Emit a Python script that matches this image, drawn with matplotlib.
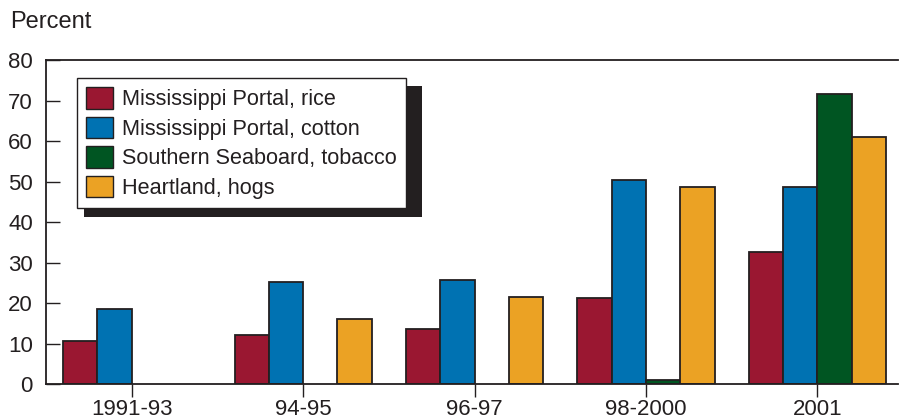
import matplotlib.pyplot as plt
import matplotlib.patches as mpatches
import numpy as np

plt.rcParams['font.family'] = ['Liberation Sans', 'DejaVu Sans']

# share of farms by region/commodity, percent
periods = ['1991-93', '94-95', '96-97', '98-2000', '2001']
rice = [10.6, 12.2, 13.7, 21.3, 32.7]
cotton = [18.5, 25.3, 25.6, 50.4, 48.6]
tobacco = [0.0, 0.0, 0.0, 1.1, 71.6]
hogs = [0.0, 16.0, 21.6, 48.6, 61.1]

series = [
    ('Mississippi Portal, rice', rice, '#9a1731'),
    ('Mississippi Portal, cotton', cotton, '#0072b2'),
    ('Southern Seaboard, tobacco', tobacco, '#005522'),
    ('Heartland, hogs', hogs, '#eba224'),
]

fig = plt.figure(figsize=(9, 4.19), dpi=100)
W, H = 900, 419
ax = fig.add_axes([46 / W, 1 - 384 / H, (898 - 46) / W, (384 - 60) / H])

x = np.arange(len(periods))
width = 0.2
handles = []
for i, (name, vals, color) in enumerate(series):
    offs = (i - 1.5) * width
    v = np.array(vals)
    keep = v > 0
    ax.bar(x[keep] + offs, v[keep], width, color=color, edgecolor='#231f20',
           linewidth=1.3, zorder=3)
    handles.append(mpatches.Patch(facecolor=color, edgecolor='#231f20',
                                  linewidth=1.0, label=name))

ax.set_xlim(-0.5, 4.47)
ax.set_ylim(0, 80)
ax.set_yticks(range(0, 81, 10))
ax.set_xticks(x)
ax.set_xticklabels(periods)

ax.spines['right'].set_visible(False)
for s in ['left', 'top', 'bottom']:
    ax.spines[s].set_color('#231f20')
    ax.spines[s].set_linewidth(1.3)
ax.spines['bottom'].set_zorder(4)

ax.tick_params(axis='y', direction='in', length=10, width=1, colors='#231f20',
               labelsize=16, pad=9.5)
ax.tick_params(axis='x', direction='out', length=9, width=1, colors='#231f20',
               labelsize=16, pad=2)
for lab in ax.get_yticklabels() + ax.get_xticklabels():
    lab.set_color('#231f20')

fig.text(10 / W, 1 - 28 / H, 'Percent', fontsize=17, color='#231f20',
         ha='left', va='baseline')

leg = ax.legend(handles=handles, loc='upper left',
                bbox_to_anchor=(77 / W, 1 - 78 / H),
                bbox_transform=fig.transFigure, borderaxespad=0,
                fontsize=15.6, frameon=True, fancybox=False, framealpha=1,
                handlelength=1.22, handleheight=1.15, handletextpad=0.45,
                labelspacing=0.3, borderpad=0.42)
leg.get_frame().set_edgecolor('#231f20')
leg.get_frame().set_facecolor('white')
leg.get_frame().set_linewidth(1.0)
leg.set_zorder(6)
for t in leg.get_texts():
    t.set_color('#231f20')

# drop shadow behind the legend box
shadow = mpatches.Rectangle((84 / W, 1 - 217 / H), (422 - 84) / W,
                            (217 - 86) / H, transform=fig.transFigure,
                            facecolor='#231f20', edgecolor='none', zorder=5)
ax.add_artist(shadow)
shadow.set_clip_on(False)

fig.savefig('out.png', dpi=100)
